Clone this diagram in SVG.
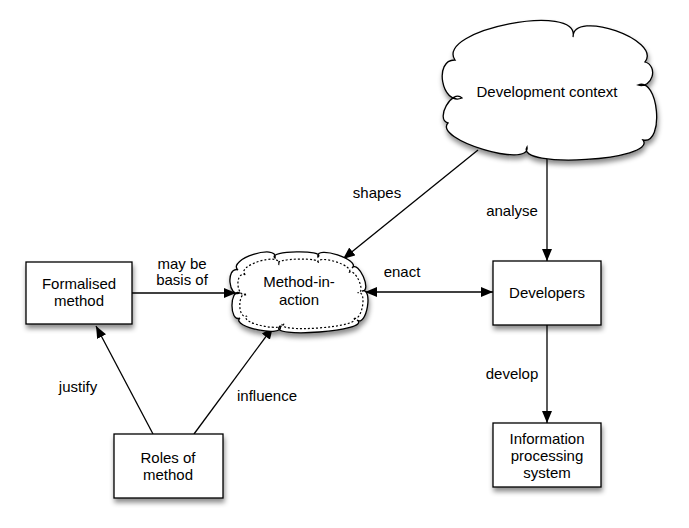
<svg xmlns="http://www.w3.org/2000/svg" width="689" height="528" viewBox="0 0 689 528">
<style>
  .node { fill: #ffffff; stroke: #000000; stroke-width: 1.3; }
  .inner { fill: none; stroke: #000000; stroke-width: 1.2; stroke-dasharray: 2 2; }
  .t { font-family: "Liberation Sans", Arial, sans-serif; font-size: 15px; fill: #000000; text-anchor: middle; }
  .edge { fill: none; stroke: #000000; stroke-width: 1.3; }
</style>
<defs>
  <filter id="shadow" x="-20%" y="-20%" width="140%" height="150%">
    <feDropShadow dx="1" dy="4" stdDeviation="2.5" flood-color="#000000" flood-opacity="0.45"/>
  </filter>
  <marker id="arrow" markerUnits="userSpaceOnUse" markerWidth="13" markerHeight="10" refX="12" refY="5" orient="auto-start-reverse">
    <path d="M0,0 L12,5 L0,10 Z" fill="#000000"/>
  </marker>
</defs>

<g id="connectors">
  <line class="edge" x1="478" y1="150" x2="343" y2="259" marker-end="url(#arrow)"/>
  <line class="edge" x1="547" y1="158" x2="547" y2="261" marker-end="url(#arrow)"/>
  <line class="edge" x1="132" y1="293" x2="236" y2="293" marker-end="url(#arrow)"/>
  <line class="edge" x1="365" y1="292" x2="493" y2="292" marker-start="url(#arrow)" marker-end="url(#arrow)"/>
  <line class="edge" x1="153" y1="434" x2="96" y2="326" marker-end="url(#arrow)"/>
  <line class="edge" x1="194" y1="434" x2="273" y2="327" marker-end="url(#arrow)"/>
  <line class="edge" x1="547" y1="325" x2="547" y2="423" marker-end="url(#arrow)"/>
  <text class="t" x="377" y="198">shapes</text>
  <text class="t" x="512" y="216">analyse</text>
  <text class="t" x="182" y="269">may be</text>
  <text class="t" x="182" y="285">basis of</text>
  <text class="t" x="402" y="277">enact</text>
  <text class="t" x="78" y="392">justify</text>
  <text class="t" x="267" y="401">influence</text>
  <text class="t" x="512" y="379">develop</text>
</g>

<g id="development-context">
  <path class="node" filter="url(#shadow)" d="M455,60 C434.5,30.1 580.7,1.5 573,37 C573.1,8.9 662.3,39.9 645,62 C659,66.2 652,89.2 638,85 C658.6,76.5 664.8,144.7 643,140 C658.2,160.5 514.4,169.1 527,147 C530.7,169 432.7,139.2 448,123 C434.7,119.5 452.1,88.5 462,98 C441.8,106.4 433.2,59.4 455,60 Z"/>
  <text class="t" x="547" y="97">Development context</text>
</g>

<g id="method-in-action">
  <path class="node" filter="url(#shadow)" d="M238,270 C226.5,259.7 278.3,242.9 275,258 C266.3,250.7 326.5,249.3 318,257 C314.5,244.6 362.1,260 352,268 C358.5,259.7 372.5,291.9 362,291 C373.5,287 366.5,327.6 357,320 C373.3,330.8 265.5,339.2 280,326 C285.9,338.1 229.9,326.9 240,318 C229.3,323 229.3,288 240,293 C228.4,298.6 225.6,266.4 238,270 Z"/>
  <path class="inner" vector-effect="non-scaling-stroke" transform="translate(300.5,294) scale(0.906,0.86) translate(-299,-292.5)" d="M238,270 C226.5,259.7 278.3,242.9 275,258 C266.3,250.7 326.5,249.3 318,257 C314.5,244.6 362.1,260 352,268 C358.5,259.7 372.5,291.9 362,291 C373.5,287 366.5,327.6 357,320 C373.3,330.8 265.5,339.2 280,326 C285.9,338.1 229.9,326.9 240,318 C229.3,323 229.3,288 240,293 C228.4,298.6 225.6,266.4 238,270 Z"/>
  <text class="t" x="299" y="287">Method-in-</text>
  <text class="t" x="299" y="305">action</text>
</g>

<g id="formalised-method">
  <rect class="node" filter="url(#shadow)" x="26" y="262" width="106" height="62"/>
  <text class="t" x="79" y="289">Formalised</text>
  <text class="t" x="79" y="306">method</text>
</g>

<g id="roles-of-method">
  <rect class="node" filter="url(#shadow)" x="114" y="434" width="109" height="64"/>
  <text class="t" x="168" y="463">Roles of</text>
  <text class="t" x="168" y="480">method</text>
</g>

<g id="developers">
  <rect class="node" filter="url(#shadow)" x="493" y="261" width="108" height="64"/>
  <text class="t" x="547" y="298">Developers</text>
</g>

<g id="information-processing-system">
  <rect class="node" filter="url(#shadow)" x="493" y="423" width="108" height="64"/>
  <text class="t" x="547" y="444">Information</text>
  <text class="t" x="547" y="461">processing</text>
  <text class="t" x="547" y="478">system</text>
</g>
</svg>
